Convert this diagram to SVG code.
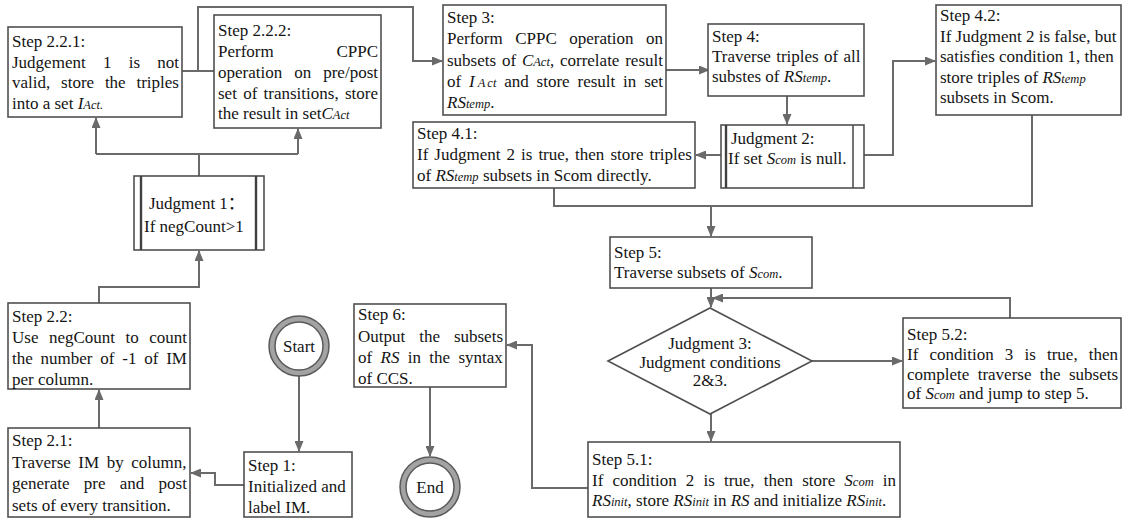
<svg xmlns="http://www.w3.org/2000/svg" width="1128" height="521" viewBox="0 0 1128 521">
  <defs>
    <style>
      .box { fill: #fff; stroke: #505050; stroke-width: 1.6; }
      .bar { stroke: #505050; stroke-width: 1.6; }
      .barb { stroke: #404040; stroke-width: 2.4; }
      .ln { fill: none; stroke: #6a6a6a; stroke-width: 2; }
      .ring { fill: #a3a3a3; stroke: #5a5a5a; stroke-width: 1.5; }
      .hole { fill: #fff; stroke: #5a5a5a; stroke-width: 1.5; }
      text { font-family: "Liberation Serif", "DejaVu Serif", serif; font-size: 17px; fill: #141414; }
      .cjk { font-family: "Noto Sans CJK SC", sans-serif; }
      .i { font-style: italic; }
      .s { font-style: italic; font-size: 12.5px; }
    </style>
    <marker id="ah" markerUnits="userSpaceOnUse" markerWidth="11" markerHeight="9" refX="10" refY="4.5" orient="auto">
      <path d="M0,0 L11,4.5 L0,9 Z" fill="#6a6a6a"/>
    </marker>
  </defs>

  <!-- connectors -->
  <g id="connectors">
    <path class="ln" d="M299,376 V451" marker-end="url(#ah)"/>
    <path class="ln" d="M244,485 H215 V473 H191" marker-end="url(#ah)"/>
    <path class="ln" d="M99,428 V390" marker-end="url(#ah)"/>
    <path class="ln" d="M99,303 V287 H199 V251" marker-end="url(#ah)"/>
    <path class="ln" d="M199,176 V154"/>
    <path class="ln" d="M96,154 H298"/>
    <path class="ln" d="M96,154 V118" marker-end="url(#ah)"/>
    <path class="ln" d="M298,154 V129" marker-end="url(#ah)"/>
    <path class="ln" d="M182,71 H214"/>
    <path class="ln" d="M198,71 V7 H413 V61 H442" marker-end="url(#ah)"/>
    <path class="ln" d="M666,70 H709" marker-end="url(#ah)"/>
    <path class="ln" d="M787,96 V124" marker-end="url(#ah)"/>
    <path class="ln" d="M721,155 H696" marker-end="url(#ah)"/>
    <path class="ln" d="M864,155 H893 V61 H935" marker-end="url(#ah)"/>
    <path class="ln" d="M554,188 V206 H1032 V115"/>
    <path class="ln" d="M711,206 V236" marker-end="url(#ah)"/>
    <path class="ln" d="M711,288 V307" marker-end="url(#ah)"/>
    <path class="ln" d="M1010,318 V298 H713" marker-end="url(#ah)"/>
    <path class="ln" d="M812,361 H902" marker-end="url(#ah)"/>
    <path class="ln" d="M711,414 V441" marker-end="url(#ah)"/>
    <path class="ln" d="M588,488 H532 V345 H507" marker-end="url(#ah)"/>
    <path class="ln" d="M430,387 V456" marker-end="url(#ah)"/>
  </g>

  <g id="start">
    <circle class="ring" cx="299" cy="346" r="30"/>
    <circle class="hole" cx="299" cy="346" r="24"/>
    <text x="299" y="352" text-anchor="middle">Start</text>
  </g>

  <g id="end">
    <circle class="ring" cx="430" cy="487" r="30"/>
    <circle class="hole" cx="430" cy="487" r="24"/>
    <text x="430" y="493" text-anchor="middle">End</text>
  </g>

  <g id="step1">
    <rect class="box" x="244" y="452" width="108" height="65"/>
    <text x="248" y="470.5">Step 1:</text>
    <text x="248" y="492">Initialized and</text>
    <text x="248" y="513">label IM.</text>
  </g>

  <g id="step2-1">
    <rect class="box" x="8" y="428" width="182" height="89"/>
    <text x="12" y="446">Step 2.1:</text>
    <text x="12" y="467.5" word-spacing="3.25">Traverse IM by column,</text>
    <text x="12" y="489" word-spacing="10">generate pre and post</text>
    <text x="12" y="510.5">sets of every transition.</text>
  </g>

  <g id="step2-2">
    <rect class="box" x="8" y="303" width="182" height="86"/>
    <text x="12" y="322">Step 2.2:</text>
    <text x="12" y="343" word-spacing="6.25">Use negCount to count</text>
    <text x="12" y="364" word-spacing="3.55">the number of -1 of IM</text>
    <text x="12" y="385">per column.</text>
  </g>

  <g id="judgment1">
    <rect class="box" x="134" y="176" width="130" height="74"/>
    <line class="barb" x1="141" y1="176" x2="141" y2="250"/>
    <line class="barb" x1="256" y1="176" x2="256" y2="250"/>
    <text x="149" y="209">Judgment 1<tspan class="cjk">：</tspan></text>
    <text x="144" y="232">If negCount&gt;1</text>
  </g>

  <g id="step2-2-1">
    <rect class="box" x="8" y="27" width="174" height="90"/>
    <text x="12" y="47">Step 2.2.1:</text>
    <text x="12" y="67.5" word-spacing="13">Judgement 1 is not</text>
    <text x="12" y="88" word-spacing="6.55">valid, store the triples</text>
    <text x="12" y="108.5">into a set <tspan class="i">I</tspan><tspan class="s">Act.</tspan></text>
  </g>

  <g id="step2-2-2">
    <rect class="box" x="214" y="15" width="167" height="113"/>
    <text x="218" y="36">Step 2.2.2:</text>
    <text x="218" y="57">Perform</text>
    <text x="378" y="57" text-anchor="end">CPPC</text>
    <text x="218" y="78" word-spacing="7.75">operation on pre/post</text>
    <text x="218" y="98.5" word-spacing="2">set of transitions, store</text>
    <text x="218" y="119">the result in set<tspan class="i">C</tspan><tspan class="s">Act</tspan></text>
  </g>

  <g id="step3">
    <rect class="box" x="443" y="5" width="223" height="110"/>
    <text x="447" y="23">Step 3:</text>
    <text x="447" y="44" word-spacing="8.25">Perform CPPC operation on</text>
    <text x="447" y="65.5" word-spacing="1.55">subsets of <tspan class="i">C</tspan><tspan class="s">Act</tspan>, correlate result</text>
    <text x="447" y="86.5" word-spacing="3.6">of <tspan class="i">I</tspan><tspan class="s" dx="3">A</tspan><tspan class="s" dx="2">ct</tspan> and store result in set</text>
    <text x="447" y="107.5"><tspan class="i">RS</tspan><tspan class="s">temp</tspan>.</text>
  </g>

  <g id="step4">
    <rect class="box" x="708" y="24" width="156" height="72"/>
    <text x="712" y="42">Step 4:</text>
    <text x="712" y="62" word-spacing="1.05">Traverse triples of all</text>
    <text x="712" y="82">substes of <tspan class="i">RS</tspan><tspan class="s">temp</tspan>.</text>
  </g>

  <g id="judgment2">
    <rect class="box" x="721" y="125" width="143" height="63"/>
    <line class="barb" x1="726" y1="125" x2="726" y2="188"/>
    <line class="bar" x1="853" y1="125" x2="853" y2="188"/>
    <text x="731" y="143.5">Judgment 2:</text>
    <text x="728" y="163.5">If set <tspan class="i">S</tspan><tspan class="s">com</tspan> is null.</text>
  </g>

  <g id="step4-1">
    <rect class="box" x="413" y="122" width="282" height="66"/>
    <text x="417" y="139">Step 4.1:</text>
    <text x="417" y="160" word-spacing="1.78">If Judgment 2 is true, then store triples</text>
    <text x="417" y="181">of <tspan class="i">RS</tspan><tspan class="s">temp</tspan> subsets in Scom directly.</text>
  </g>

  <g id="step4-2">
    <rect class="box" x="936" y="5" width="185" height="110"/>
    <text x="940" y="21">Step 4.2:</text>
    <text x="940" y="41.5">If Judgment 2 is false, but</text>
    <text x="940" y="62">satisfies condition 1, then</text>
    <text x="940" y="82.5">store triples of <tspan class="i">RS</tspan><tspan class="s">temp</tspan></text>
    <text x="940" y="103">subsets in Scom.</text>
  </g>

  <g id="step5">
    <rect class="box" x="610" y="237" width="202" height="51"/>
    <text x="614" y="258">Step 5:</text>
    <text x="614" y="278">Traverse subsets of <tspan class="i">S</tspan><tspan class="s">com</tspan>.</text>
  </g>

  <g id="judgment3">
    <polygon class="box" points="608,361 710,308 812,361 710,414"/>
    <text x="710" y="349" text-anchor="middle">Judgment 3:</text>
    <text x="710" y="368" text-anchor="middle">Judgment conditions</text>
    <text x="710" y="386" text-anchor="middle">2&amp;3.</text>
  </g>

  <g id="step5-2">
    <rect class="box" x="903" y="318" width="218" height="90"/>
    <text x="907" y="340">Step 5.2:</text>
    <text x="907" y="360" word-spacing="6.9">If condition 3 is true, then</text>
    <text x="907" y="379.5" word-spacing="4.1">complete traverse the subsets</text>
    <text x="907" y="399">of <tspan class="i">S</tspan><tspan class="s">com</tspan> and jump to step 5.</text>
  </g>

  <g id="step5-1">
    <rect class="box" x="588" y="442" width="312" height="75"/>
    <text x="592" y="465">Step 5.1:</text>
    <text x="592" y="486" word-spacing="4.89">If condition 2 is true, then store <tspan class="i">S</tspan><tspan class="s">com</tspan> in</text>
    <text x="592" y="506"><tspan class="i">RS</tspan><tspan class="s">init</tspan>, store <tspan class="i">RS</tspan><tspan class="s">init</tspan> in <tspan class="i">RS</tspan> and initialize <tspan class="i">RS</tspan><tspan class="s">init</tspan>.</text>
  </g>

  <g id="step6">
    <rect class="box" x="354" y="304" width="152" height="83"/>
    <text x="358" y="320">Step 6:</text>
    <text x="358" y="341.5" word-spacing="9.7">Output the subsets</text>
    <text x="358" y="363" word-spacing="4.1">of <tspan class="i">RS</tspan> in the syntax</text>
    <text x="358" y="384">of CCS.</text>
  </g>
</svg>
